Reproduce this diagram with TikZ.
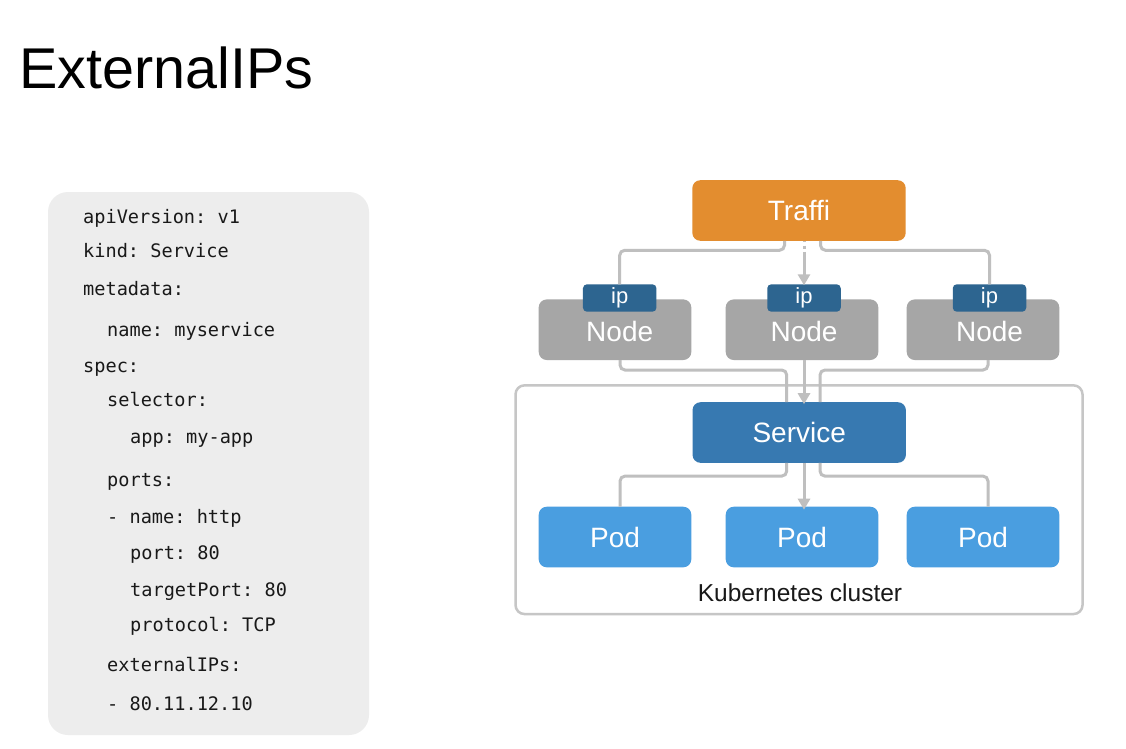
\documentclass[tikz,border=0pt]{standalone}
\usepackage{fontspec}
\setmainfont{Liberation Sans}
\setmonofont{DejaVu Sans Mono}
\usetikzlibrary{arrows.meta,calc}

\definecolor{trafficorange}{HTML}{E38D2F}
\definecolor{nodegray}{HTML}{A6A6A6}
\definecolor{ipblue}{HTML}{2D6590}
\definecolor{serviceblue}{HTML}{3779B1}
\definecolor{podblue}{HTML}{4A9EE0}
\definecolor{linegray}{HTML}{BFBFBF}
\definecolor{clustergray}{HTML}{C6C6C6}
\definecolor{codebg}{HTML}{EDEDED}

\tikzset{
  box/.style={rectangle, rounded corners=8pt, inner sep=0pt, outer sep=0pt,
    text=white, font=\fontsize{28}{28}\selectfont},
  bigbox/.style={box, minimum width=213.4pt, minimum height=60.6pt},
  smallbox/.style={box, minimum width=152.6pt, minimum height=60.6pt},
  ipbadge/.style={rectangle, rounded corners=4pt, inner sep=0pt, outer sep=0pt,
    fill=ipblue, text=white, minimum width=73.5pt, minimum height=27.4pt,
    font=\fontsize{22}{22}\selectfont},
  nodelabel/.style={anchor=base, text=white, inner sep=0pt, font=\fontsize{28}{28}\selectfont},
  conn/.style={draw=linegray, line width=3pt, rounded corners=5pt},
  flow/.style={conn, -{Triangle[length=11pt,width=12pt]}},
  code/.style={anchor=base west, inner sep=0pt, text=black!90,
    font=\ttfamily\fontsize{18.6}{18.6}\selectfont},
}

\begin{document}
\begin{tikzpicture}[x=1pt,y=-1pt]
\useasboundingbox (0,0) rectangle (1126,748);
\fill[white] (0,0) rectangle (1126,748);

% title
\node[anchor=base west, inner sep=0pt, font=\fontsize{57.5}{57.5}\selectfont] (title) at (19,88) {ExternalIPs};

% YAML manifest panel
\fill[codebg, rounded corners=20pt] (48,192) rectangle (369,735);
\node[code] (c1)  at (83,223)  {apiVersion: v1};
\node[code] (c2)  at (83,257)  {kind: Service};
\node[code] (c3)  at (83,295)  {metadata:};
\node[code] (c4)  at (107,336) {name: myservice};
\node[code] (c5)  at (83,372)  {spec:};
\node[code] (c6)  at (107,406) {selector:};
\node[code] (c7)  at (130,443) {app: my-app};
\node[code] (c8)  at (107,486) {ports:};
\node[code] (c9)  at (107,523) {- name: http};
\node[code] (c10) at (130,559) {port: 80};
\node[code] (c11) at (130,596) {targetPort: 80};
\node[code] (c12) at (130,631) {protocol: TCP};
\node[code] (c13) at (107,671) {externalIPs:};
\node[code] (c14) at (107,710) {- 80.11.12.10};

% cluster frame
\node[draw=clustergray, line width=2.5pt, rounded corners=9pt, inner sep=0pt,
      minimum width=567pt, minimum height=228.7pt] (cluster) at (799,499.7) {};
\node[anchor=base, inner sep=0pt, text=black!90, font=\fontsize{24.5}{24.5}\selectfont]
      (clusterlabel) at (800,601) {Kubernetes cluster};

% boxes
\node[bigbox, fill=trafficorange] (traffic) at (799,210.5) {Traffi};

\node[smallbox, fill=nodegray] (node1) at (615,329.7) {};
\node[smallbox, fill=nodegray] (node2) at (802,329.7) {};
\node[smallbox, fill=nodegray] (node3) at (983,329.7) {};

\node[ipbadge] (ip1) at (619.7,298) {ip};
\node[ipbadge] (ip2) at (804,298)   {ip};
\node[ipbadge] (ip3) at (989.5,298) {ip};

\node[nodelabel] (nl1) at (619.7,341.7) {Node};
\node[nodelabel] (nl2) at (804,341.7)   {Node};
\node[nodelabel] (nl3) at (989.5,341.7) {Node};

\node[bigbox, fill=serviceblue] (service) at (799.2,432.5) {Service};

\node[smallbox, fill=podblue] (pod1) at (615,537) {Pod};
\node[smallbox, fill=podblue] (pod2) at (802,537) {Pod};
\node[smallbox, fill=podblue] (pod3) at (983,537) {Pod};

% traffic to the node IPs
\draw[conn] ([xshift=-14.5pt]traffic.south) -- ++(0,9.5) -| (ip1.north);
\draw[conn] ([xshift=21.5pt]traffic.south) -- ++(0,9.5) -| (ip3.north);
\draw[flow, dash pattern=on 1pt off 4pt on 3pt off 3pt on 100pt]
  (ip2.north |- traffic.south) -- ([yshift=-1pt]ip2.north);

% nodes to the service
\draw[conn] ([xshift=5pt]node1.south) -- ++(0,10) -| ([xshift=-12.5pt]service.north);
\draw[conn] ([xshift=5pt]node3.south) -- ++(0,10) -| ([xshift=20.8pt]service.north);
\draw[flow] (ip2.south |- node2.south) -- ([yshift=-2pt]ip2.south |- service.north);

% service to the pods
\draw[conn] ([xshift=-12.5pt]service.south) -- ++(0,13.3) -| ([xshift=5pt]pod1.north);
\draw[conn] ([xshift=20.8pt]service.south) -- ++(0,13.3) -| ([xshift=5pt]pod3.north);
\draw[flow] (ip2.south |- service.south) -- ([yshift=-3pt]ip2.south |- pod2.north);
\end{tikzpicture}
\end{document}
